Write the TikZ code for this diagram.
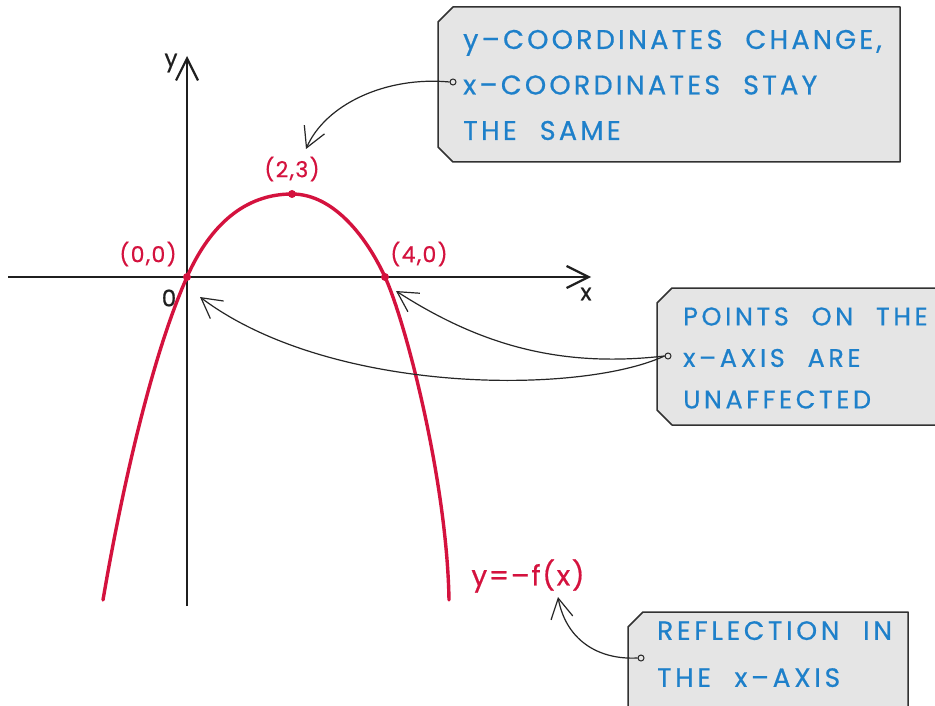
\documentclass[tikz,border=0pt]{standalone}
\usepackage{fontspec}
\setmainfont{Poppins}
\newfontfamily\handfont[LetterSpace=12,WordSpace=2.2,FakeBold=0.6]{Poppins}
\newfontfamily\handfontb[LetterSpace=14,WordSpace=2.2,FakeBold=0.6]{Poppins}
\newfontfamily\labfont[LetterSpace=6,FakeBold=0.6]{Poppins}
\usetikzlibrary{arrows.meta}
\definecolor{cred}{RGB}{212,18,62}
\definecolor{cblue}{RGB}{30,128,202}
\definecolor{boxfill}{RGB}{229,229,229}
\definecolor{boxline}{RGB}{50,50,50}
\begin{document}
\begin{tikzpicture}[x=1pt,y=-1pt,
  axisline/.style={line width=2.2pt, draw=black!88, -{Straight Barb[length=22pt,width=22pt,line width=2.2pt]}},
  curveline/.style={line width=3.4pt, draw=cred, line cap=round},
  redlabel/.style={text=cred, font=\labfont\fontsize{22}{24}\selectfont, inner sep=0pt},
  axlabel/.style={text=black!88, font=\labfont\fontsize{23}{24}\selectfont, inner sep=0pt},
  reddot/.style={circle, fill=cred, inner sep=0pt, minimum size=8pt},
  boxtext/.style={text=cblue, align=left, anchor=west, inner sep=0pt},
  boxshape/.style={draw=boxline, fill=boxfill, line width=1.5pt, line join=round},
  pindot/.style={circle, draw=black!85, fill=boxfill, line width=1pt, inner sep=0pt, minimum size=6pt},
  pointer/.style={line width=1.2pt, draw=black!85, -{Straight Barb[length=20pt,width=22pt,line width=1.2pt]}}
]
\useasboundingbox[fill=white] (0,0) rectangle (935,706);

% boxes
\path[boxshape] (453,7) -- (900,7) -- (900,162) -- (453,162) -- (438,147) -- (438,22) -- cycle;
\path[boxshape] (672,288) -- (950,288) -- (950,425) -- (672,425) -- (657,410) -- (657,303) -- cycle;
\path[boxshape] (643,612) -- (908,612) -- (908,730) -- (643,730) -- (628,715) -- (628,627) -- cycle;

\node[boxtext, font=\handfont\fontsize{27}{45.5}\selectfont] (t1) at (463,85)
  {y–COORDINATES CHANGE,\\x–COORDINATES STAY\\THE SAME};
\node[boxtext, font=\handfontb\fontsize{25.5}{41.5}\selectfont] (t2) at (683,358)
  {POINTS ON THE\\x–AXIS ARE\\UNAFFECTED};
\node[boxtext, font=\handfontb\fontsize{26.5}{47}\selectfont, anchor=north west] (t3) at (657,621)
  {REFLECTION IN\\THE x–AXIS};

% axes
\coordinate (xs) at (8,277);
\coordinate (xe) at (591,277);
\coordinate (ys) at (187,606);
\coordinate (ye) at (187,56);
\draw[axisline] (xs) -- (xe);
\draw[axisline] (ys) -- (ye);
\node[axlabel] (ylab) at (171,63) {y};
\node[axlabel] (xlab) at (586,294) {x};
\node[axlabel] (olab) at (169,298) {0};

% curve
\coordinate (c0) at (103,600);
\coordinate (c4) at (449,600);
\draw[curveline] (c0) .. controls (120,500) and (150,360) .. (187,277)
  .. controls (210,225) and (245,194) .. (292,194)
  .. controls (335,194) and (368,240) .. (385,277)
  .. controls (405,320) and (447,480) .. (c4);
\node[reddot] (p0) at (187,277) {};
\node[reddot] (p1) at (292,194) {};
\node[reddot] (p2) at (385,277) {};
\node[redlabel] (l0) at (148,254) {(0,0)};
\node[redlabel] (l1) at (292,169) {(2,3)};
\node[redlabel] (l2) at (419,254) {(4,0)};
\node[redlabel, font=\labfont\fontsize{28}{30}\selectfont] (lf) at (528,576) {y=–f(x)};

% pointers
\node[pindot] (d1) at (453,82) {};
\node[pindot] (d2) at (668,356) {};
\node[pindot] (d3) at (641,658) {};
\coordinate (a1) at (306,149);
\coordinate (a2) at (396,291);
\coordinate (a3) at (200,297);
\coordinate (a4) at (558,597);
\draw[pointer] (d1.west) .. controls (385,76) and (325,105) .. (a1);
\draw[pointer] (d2.west) .. controls (560,368) and (480,345) .. (a2);
\draw[pointer] (d2.west) .. controls (580,395) and (330,395) .. (a3);
\draw[pointer] (d3.west) .. controls (598,660) and (566,640) .. (a4);
\end{tikzpicture}
\end{document}
